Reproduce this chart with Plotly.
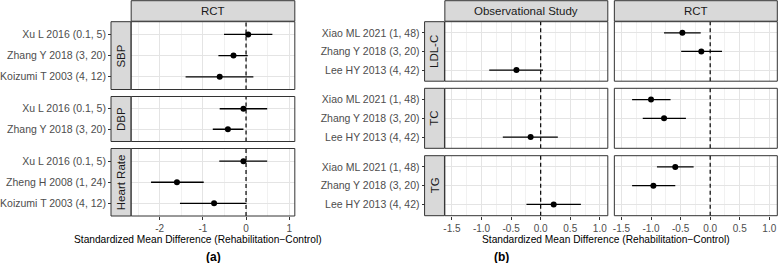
import plotly.graph_objects as go

# ---------------- data ----------------
studies_sbp = ["Xu L 2016 (0.1, 5)", "Zhang Y 2018 (3, 20)", "Koizumi T 2003 (4, 12)"]
smd_sbp = [0.05, -0.29, -0.61]
lo_sbp = [-0.51, -0.64, -1.40]
hi_sbp = [0.61, 0.04, 0.17]

studies_dbp = ["Xu L 2016 (0.1, 5)", "Zhang Y 2018 (3, 20)"]
smd_dbp = [-0.06, -0.42]
lo_dbp = [-0.61, -0.77]
hi_dbp = [0.49, -0.06]

studies_hr = ["Xu L 2016 (0.1, 5)", "Zheng H 2008 (1, 24)", "Koizumi T 2003 (4, 12)"]
smd_hr = [-0.06, -1.60, -0.74]
lo_hr = [-0.62, -2.20, -1.53]
hi_hr = [0.49, -0.98, 0.01]

studies_lipid = ["Xiao ML 2021 (1, 48)", "Zhang Y 2018 (3, 20)", "Lee HY 2013 (4, 42)"]

obs_studies = ["Lee HY 2013 (4, 42)"]
obs_ldl = [-0.41]; obs_ldl_lo = [-0.87]; obs_ldl_hi = [0.04]
obs_tc = [-0.17]; obs_tc_lo = [-0.64]; obs_tc_hi = [0.29]
obs_tg = [0.22]; obs_tg_lo = [-0.24]; obs_tg_hi = [0.68]

rct_studies = ["Xiao ML 2021 (1, 48)", "Zhang Y 2018 (3, 20)"]
rct_ldl = [-0.47, -0.15]; rct_ldl_lo = [-0.78, -0.49]; rct_ldl_hi = [-0.16, 0.20]
rct_tc = [-1.00, -0.78]; rct_tc_lo = [-1.32, -1.14]; rct_tc_hi = [-0.67, -0.41]
rct_tg = [-0.59, -0.96]; rct_tg_lo = [-0.90, -1.32]; rct_tg_hi = [-0.28, -0.59]

xticks_a = [-2, -1, 0, 1]
xticklabels_a = ["-2", "-1", "0", "1"]
xminor_a = [-2.5, -1.5, -0.5, 0.5]
xticks_b = [-1.5, -1.0, -0.5, 0.0, 0.5, 1.0]
xticklabels_b = ["-1.5", "-1.0", "-0.5", "0.0", "0.5", "1.0"]
xminor_b = [-1.25, -0.75, -0.25, 0.25, 0.75]

row_labels_a = ["SBP", "DBP", "Heart Rate"]
row_labels_b = ["LDL-C", "TC", "TG"]
col_labels_b = ["Observational Study", "RCT"]
col_label_a = "RCT"
x_title = "Standardized Mean Difference (Rehabilitation\u2212Control)"

# ---------------- layout helpers ----------------
W, H = 778, 263
def fx(p): return p / W
def fy(p): return 1 - p / H

FONT = "Liberation Sans, Arial, sans-serif"
BORDER = "#333333"
GRID = "#E4E4E4"
GRID_MINOR = "#F1F1F1"
STRIP = "#D9D9D9"
YTICK_SIZE = 10.5
XTICK_SIZE = 10
STRIP_SIZE = 11.5

A_X = (127, 291.7)
A_ROWS = [(21.7, 89.5), (96.5, 141.5), (148.5, 216.0)]
B_OBS_X = (442.7, 606.7)
B_RCT_X = (613.3, 777.3)
B_ROWS = [(21.7, 81.2), (88.3, 148.3), (155.7, 215.7)]
RANGE_A = [-2.66, 1.13]
RANGE_B = [-1.62, 1.135]

panels = [
    (A_X, A_ROWS[0], studies_sbp, studies_sbp, smd_sbp, lo_sbp, hi_sbp, RANGE_A, xticks_a, xticklabels_a, xminor_a, False, 106.7),
    (A_X, A_ROWS[1], studies_dbp, studies_dbp, smd_dbp, lo_dbp, hi_dbp, RANGE_A, xticks_a, xticklabels_a, xminor_a, False, 106.7),
    (A_X, A_ROWS[2], studies_hr, studies_hr, smd_hr, lo_hr, hi_hr, RANGE_A, xticks_a, xticklabels_a, xminor_a, True, 106.7),
    (B_OBS_X, B_ROWS[0], studies_lipid, obs_studies, obs_ldl, obs_ldl_lo, obs_ldl_hi, RANGE_B, xticks_b, xticklabels_b, xminor_b, False, 422.3),
    (B_OBS_X, B_ROWS[1], studies_lipid, obs_studies, obs_tc, obs_tc_lo, obs_tc_hi, RANGE_B, xticks_b, xticklabels_b, xminor_b, False, 422.3),
    (B_OBS_X, B_ROWS[2], studies_lipid, obs_studies, obs_tg, obs_tg_lo, obs_tg_hi, RANGE_B, xticks_b, xticklabels_b, xminor_b, True, 422.3),
    (B_RCT_X, B_ROWS[0], studies_lipid, rct_studies, rct_ldl, rct_ldl_lo, rct_ldl_hi, RANGE_B, xticks_b, xticklabels_b, xminor_b, False, None),
    (B_RCT_X, B_ROWS[1], studies_lipid, rct_studies, rct_tc, rct_tc_lo, rct_tc_hi, RANGE_B, xticks_b, xticklabels_b, xminor_b, False, None),
    (B_RCT_X, B_ROWS[2], studies_lipid, rct_studies, rct_tg, rct_tg_lo, rct_tg_hi, RANGE_B, xticks_b, xticklabels_b, xminor_b, True, None),
]

fig = go.Figure()
layout = {}
shapes = []
annotations = []

for i, (xs, ys, cats, studies, smd, lo, hi, xr, tv, tt, mv, bottom, ypos) in enumerate(panels, start=1):
    xa = "x" if i == 1 else f"x{i}"
    ya = "y" if i == 1 else f"y{i}"
    xkey = "xaxis" if i == 1 else f"xaxis{i}"
    ykey = "yaxis" if i == 1 else f"yaxis{i}"

    fig.add_trace(go.Scatter(
        x=smd, y=studies, xaxis=xa, yaxis=ya, mode="markers",
        marker=dict(color="black", size=6),
        error_x=dict(type="data", symmetric=False,
                     array=[h - m for h, m in zip(hi, smd)],
                     arrayminus=[m - l for m, l in zip(smd, lo)],
                     color="black", thickness=1.3, width=0),
        showlegend=False, hoverinfo="skip"))

    layout[xkey] = dict(
        domain=[fx(xs[0]), fx(xs[1])], anchor=ya, range=xr,
        tickmode="array", tickvals=tv, ticktext=tt,
        showgrid=True, gridcolor=GRID, gridwidth=1, zeroline=False, showline=False,
        ticks="outside" if bottom else "", ticklen=3, tickwidth=1, tickcolor=BORDER,
        showticklabels=bottom,
        tickfont=dict(family=FONT, size=XTICK_SIZE, color="#4D4D4D"),
        minor=dict(tickmode="array", tickvals=mv, showgrid=True,
                   gridcolor=GRID_MINOR, gridwidth=0.6, ticks=""),
    )
    yax = dict(
        domain=[fy(ys[1]), fy(ys[0])], type="category", categoryarray=cats,
        categoryorder="array", range=[len(cats) - 0.4, -0.6],
        showgrid=True, gridcolor=GRID, gridwidth=1, zeroline=False, showline=False,
        tickfont=dict(family=FONT, size=YTICK_SIZE, color="#4D4D4D"),
    )
    if ypos is not None:
        yax.update(anchor="free", position=fx(ypos), ticks="outside", ticklen=3,
                   tickwidth=1, tickcolor=BORDER, showticklabels=True)
    else:
        yax.update(anchor=xa, ticks="", showticklabels=False)
    layout[ykey] = yax

    shapes.append(dict(type="line", xref=xa, yref=f"{ya} domain", x0=0, x1=0, y0=0, y1=1,
                       line=dict(color="black", width=1.2, dash="4px,3px"), layer="above"))
    shapes.append(dict(type="rect", xref="paper", yref="paper",
                       x0=fx(xs[0]), x1=fx(xs[1]), y0=fy(ys[1]), y1=fy(ys[0]),
                       line=dict(color=BORDER, width=1), fillcolor="rgba(0,0,0,0)", layer="above"))

def strip(x0, x1, y0, y1, text, angle=0):
    shapes.append(dict(type="rect", xref="paper", yref="paper",
                       x0=fx(x0), x1=fx(x1), y0=fy(y1), y1=fy(y0),
                       line=dict(color=BORDER, width=1), fillcolor=STRIP, layer="above"))
    annotations.append(dict(xref="paper", yref="paper", x=fx((x0 + x1) / 2), y=fy((y0 + y1) / 2),
                            text=text, showarrow=False, textangle=angle,
                            xanchor="center", yanchor="middle",
                            font=dict(family=FONT, size=STRIP_SIZE, color="#1A1A1A")))

strip(A_X[0], A_X[1], 0.7, 21.2, col_label_a)
strip(B_OBS_X[0], B_OBS_X[1], 0.7, 21.2, col_labels_b[0])
strip(B_RCT_X[0], B_RCT_X[1], 0.7, 21.2, col_labels_b[1])
for (y0, y1), lab in zip(A_ROWS, row_labels_a):
    strip(106.7, 126.7, y0, y1, lab, -90)
for (y0, y1), lab in zip(B_ROWS, row_labels_b):
    strip(422.3, 442.3, y0, y1, lab, -90)

annotations.append(dict(xref="paper", yref="paper", x=fx(194), y=fy(239.5), text=x_title,
                        showarrow=False, xanchor="center", yanchor="middle",
                        font=dict(family=FONT, size=10.2, color="black")))
annotations.append(dict(xref="paper", yref="paper", x=fx(605), y=fy(239.5), text=x_title,
                        showarrow=False, xanchor="center", yanchor="middle",
                        font=dict(family=FONT, size=10.2, color="black")))
annotations.append(dict(xref="paper", yref="paper", x=fx(210), y=fy(256.5), text="<b>(a)</b>",
                        showarrow=False, xanchor="center", yanchor="middle",
                        font=dict(family=FONT, size=12, color="black")))
annotations.append(dict(xref="paper", yref="paper", x=fx(500), y=fy(256.5), text="<b>(b)</b>",
                        showarrow=False, xanchor="center", yanchor="middle",
                        font=dict(family=FONT, size=12, color="black")))

fig.update_layout(
    width=W, height=H, margin=dict(l=0, r=0, t=0, b=0),
    paper_bgcolor="white", plot_bgcolor="white",
    shapes=shapes, annotations=annotations,
    font=dict(family=FONT, size=10, color="black"),
    **layout,
)

fig.write_html("out.html", config={"displayModeBar": False},
               post_script="document.body.style.margin='0';document.body.style.overflow='hidden';")
